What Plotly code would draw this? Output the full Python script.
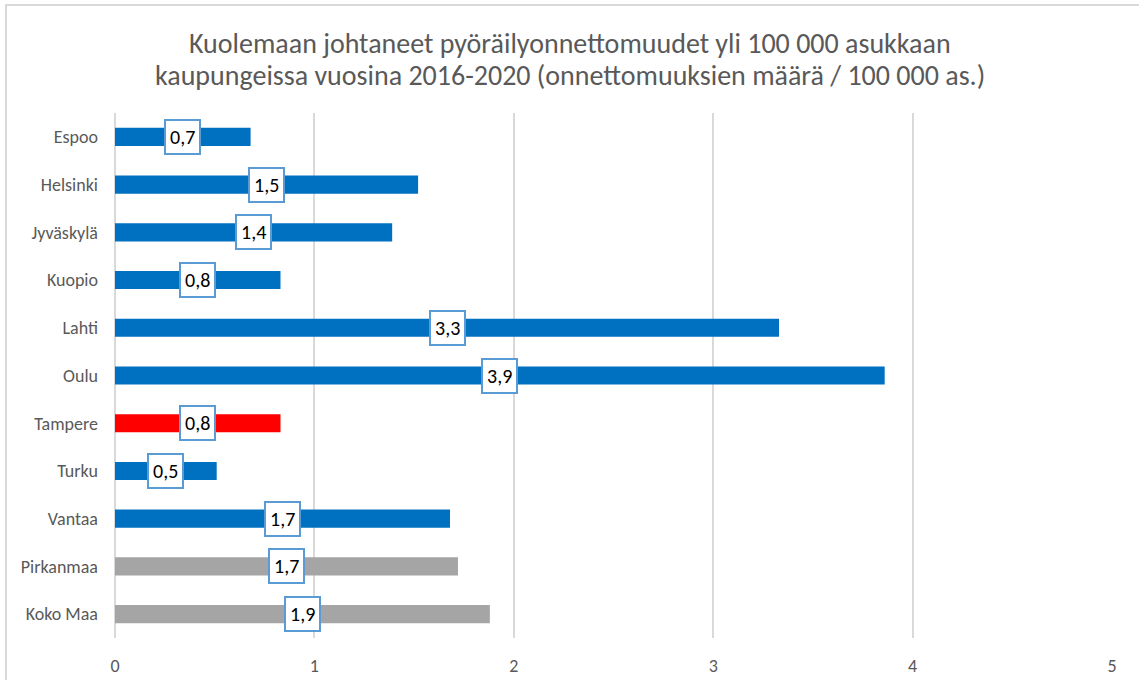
import plotly.graph_objects as go

# Fatal cycling accidents per 100 000 inhabitants, 2016-2020
categories = ["Espoo", "Helsinki", "Jyväskylä", "Kuopio", "Lahti", "Oulu",
              "Tampere", "Turku", "Vantaa", "Pirkanmaa", "Koko Maa"]
values = [0.68, 1.52, 1.39, 0.83, 3.33, 3.86, 0.83, 0.51, 1.68, 1.72, 1.88]
bar_colors = ["#0070C0"] * 6 + ["#FF0000"] + ["#0070C0"] * 2 + ["#A5A5A5"] * 2
x_ticks = [0, 1, 2, 3, 4, 5]
title_lines = [
    "Kuolemaan johtaneet pyöräilyonnettomuudet yli 100 000 asukkaan",
    "kaupungeissa vuosina 2016-2020 (onnettomuuksien määrä / 100 000 as.)",
]

FONT = "Carlito, Open Sans, sans-serif"

fig = go.Figure()
fig.add_trace(go.Bar(
    y=categories,
    x=values,
    orientation="h",
    marker=dict(color=bar_colors, line=dict(width=0)),
    hoverinfo="skip",
))

# Value labels: boxed, placed at the middle of each bar
for cat, val in zip(categories, values):
    fig.add_annotation(
        x=val / 2, y=cat, xref="x", yref="y",
        text=f"{val:.1f}".replace(".", ","),
        showarrow=False,
        font=dict(family=FONT, size=20, color="#000000"),
        bgcolor="#FFFFFF",
        bordercolor="#5B9BD5",
        borderwidth=2,
        borderpad=4,
    )

# Two-line chart title, centred on the whole figure
for line, ypos in zip(title_lines, [1.1315, 1.0715]):
    fig.add_annotation(
        x=0.5 - (115 - 27) / 2 / 997, y=ypos, xref="paper", yref="paper",
        xanchor="center", yanchor="middle",
        text=line, showarrow=False,
        font=dict(family=FONT, size=28, color="#595959"),
    )

# Outer chart frame
fig.add_shape(type="rect", xref="paper", yref="paper",
              x0=-0.1093, x1=1.06, y0=-0.25, y1=1.2057,
              line=dict(color="#D9D9D9", width=2), layer="below")

fig.update_layout(
    width=1139, height=680,
    margin=dict(l=115, r=27, t=113, b=42),
    paper_bgcolor="white", plot_bgcolor="white",
    bargap=0.62,
    showlegend=False,
    xaxis=dict(
        range=[0, 5], tickvals=x_ticks, ticktext=[str(t) for t in x_ticks],
        showgrid=True, gridcolor="#D9D9D9", gridwidth=1.5,
        zeroline=True, zerolinecolor="#D9D9D9", zerolinewidth=1.5,
        showline=False, ticks="", ticklabelstandoff=15,
        tickfont=dict(family=FONT, size=18, color="#595959"),
        fixedrange=True, automargin=False,
    ),
    yaxis=dict(
        categoryorder="array", categoryarray=categories, autorange="reversed",
        showgrid=False, showline=False, ticks="", ticklabelstandoff=16,
        tickfont=dict(family=FONT, size=18, color="#595959"),
        fixedrange=True, automargin=False,
    ),
)

fig.write_html("out.html")
